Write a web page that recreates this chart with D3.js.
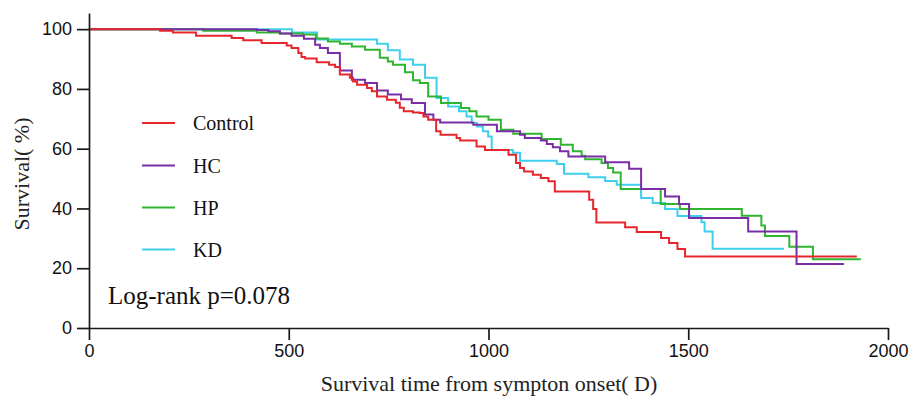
<!DOCTYPE html>
<html>
<head>
<meta charset="utf-8">
<script src="https://cdn.jsdelivr.net/npm/d3@7"></script>
<style>
  html, body { margin: 0; padding: 0; background: #fff; }
  svg { display: block; }
</style>
</head>
<body>
<svg id="chart" width="912" height="403"></svg>
<script>
// ---- Data ----
const groups = ["Control", "HC", "HP", "KD"];
const groupColors = ["#e6262c", "#7a2ea6", "#2fb52f", "#3fcfee"];

const controlTime = [0, 178, 210, 268, 357, 386, 432, 495, 507, 524, 532, 541, 570, 601, 616, 628, 653, 661, 671, 696, 708, 721, 746, 768, 778, 788, 811, 828, 837, 849, 869, 880, 920, 929, 970, 991, 1050, 1069, 1079, 1089, 1111, 1131, 1150, 1166, 1252, 1262, 1270, 1342, 1371, 1432, 1452, 1473, 1492, 1922];
const controlSurv = [100, 99.5, 98.9, 97.8, 97.05, 96.25, 95.4, 94.5, 93.7, 92.0, 90.7, 90.2, 88.9, 88.1, 87.3, 84.8, 83.7, 82.5, 81.4, 80.3, 79.2, 77.5, 76.4, 75.4, 73.7, 72.5, 72.1, 71.9, 70.8, 69.7, 65.8, 64.7, 63.6, 62.7, 60.7, 59.6, 58.0, 55.2, 53.5, 52.4, 51.3, 50.2, 49.1, 45.7, 42.9, 39.8, 35.3, 33.7, 32.1, 30.1, 28.4, 26.4, 23.9, 23.9];

const hcTime = [0, 420, 449, 478, 507, 538, 566, 578, 598, 628, 658, 691, 721, 748, 781, 808, 841, 862, 879, 962, 1021, 1079, 1091, 1131, 1146, 1161, 1179, 1200, 1292, 1352, 1382, 1442, 1477, 1502, 1650, 1771, 1890];
const hcSurv = [100, 99.7, 99.3, 98.5, 97.8, 96.8, 94.8, 93.7, 92.0, 86.2, 83.1, 82.0, 79.5, 78.1, 76.5, 75.3, 71.4, 69.7, 68.8, 68.0, 65.8, 64.7, 63.6, 62.7, 61.6, 60.5, 59.1, 57.4, 55.5, 53.3, 46.5, 44.0, 41.5, 36.8, 32.3, 21.4, 21.4];

const hpTime = [0, 286, 420, 478, 536, 568, 598, 628, 658, 691, 728, 748, 761, 791, 811, 828, 849, 881, 931, 952, 970, 1000, 1031, 1062, 1133, 1181, 1211, 1233, 1242, 1283, 1299, 1312, 1331, 1431, 1479, 1634, 1683, 1692, 1753, 1812, 1932];
const hpSurv = [100, 99.5, 98.9, 98.5, 98.2, 96.9, 95.9, 95.1, 94.2, 93.1, 90.4, 89.2, 88.1, 85.6, 82.9, 82.0, 77.5, 75.3, 73.6, 72.5, 70.8, 69.7, 66.3, 65.0, 63.2, 61.3, 59.1, 57.6, 56.5, 55.2, 53.5, 52.0, 46.5, 41.5, 39.8, 37.6, 34.3, 30.8, 27.2, 23.0, 23.0];

const kdTime = [0, 508, 571, 721, 748, 778, 811, 841, 870, 899, 926, 945, 958, 971, 986, 999, 1008, 1061, 1079, 1171, 1189, 1250, 1292, 1321, 1382, 1411, 1442, 1473, 1533, 1541, 1561, 1740];
const kdSurv = [100, 98.9, 96.5, 95.1, 92.9, 89.8, 88.1, 83.7, 77.0, 74.1, 72.5, 70.8, 68.6, 67.4, 65.8, 64.1, 59.6, 58.6, 56.0, 54.9, 51.6, 50.4, 49.2, 47.9, 43.5, 41.8, 39.8, 37.5, 35.4, 32.3, 26.5, 26.5];

const xTicks = [0, 500, 1000, 1500, 2000];
const yTicks = [0, 20, 40, 60, 80, 100];
const xTitle = "Survival time from sympton onset( D)";
const yTitle = "Survival( %)";
const statText = "Log-rank p=0.078";

// ---- Build ----
const series = [
  { name: "Control", t: controlTime, s: controlSurv },
  { name: "HC", t: hcTime, s: hcSurv },
  { name: "HP", t: hpTime, s: hpSurv },
  { name: "KD", t: kdTime, s: kdSurv }
].map((d, i) => ({ ...d, color: groupColors[i], pts: d.t.map((v, j) => [v, d.s[j]]) }));

const svg = d3.select("#chart");
const x = d3.scaleLinear().domain([0, 2000]).range([89, 888]);
const y = d3.scaleLinear().domain([0, 105.4]).range([328, 13]);

const line = d3.line().x(d => x(d[0])).y(d => y(d[1])).curve(d3.curveStepAfter);

// draw order: KD, HP, HC, Control on top
const order = ["KD", "HP", "HC", "Control"];
order.forEach(n => {
  const d = series.find(s => s.name === n);
  svg.append("path")
    .attr("d", line(d.pts))
    .attr("fill", "none")
    .attr("stroke", d.color)
    .attr("stroke-width", 2);
});

// axes
const axisColor = "#1a1a1a";
const gx = svg.append("g").attr("transform", `translate(0,${y(0)})`)
  .call(d3.axisBottom(x).tickValues(xTicks).tickSize(12).tickSizeOuter(0).tickPadding(4).tickFormat(d3.format("d")));
const gy = svg.append("g").attr("transform", `translate(${x(0)},0)`)
  .call(d3.axisLeft(y).tickValues(yTicks).tickSize(12).tickSizeOuter(0).tickPadding(5).tickFormat(d3.format("d")));

[gx, gy].forEach(g => {
  g.selectAll("path, line").attr("stroke", axisColor).attr("stroke-width", 1.7);
  g.selectAll("text").attr("fill", "#111")
    .style("font-family", "'Liberation Sans', Arial, sans-serif").style("font-size", "18px");
});

// axis titles
svg.append("text")
  .attr("x", 489).attr("y", 391)
  .attr("text-anchor", "middle")
  .style("font-family", "'Liberation Serif', 'Times New Roman', serif")
  .style("font-size", "22px").attr("fill", "#222")
  .text(xTitle);

svg.append("text")
  .attr("transform", "translate(29,174) rotate(-90)")
  .attr("text-anchor", "middle")
  .style("font-family", "'Liberation Serif', 'Times New Roman', serif")
  .style("font-size", "22px").attr("fill", "#222")
  .text(yTitle);

// legend
const legendY = [123, 165.5, 207.5, 249.5];
series.forEach((d, i) => {
  svg.append("line")
    .attr("x1", 142).attr("x2", 175)
    .attr("y1", legendY[i]).attr("y2", legendY[i])
    .attr("stroke", d.color).attr("stroke-width", 1.8);
  svg.append("text")
    .attr("x", 193).attr("y", legendY[i]).attr("dy", "0.35em")
    .style("font-family", "'Liberation Serif', 'Times New Roman', serif")
    .style("font-size", "20px").attr("fill", "#111")
    .text(groups[i]);
});

svg.append("text")
  .attr("x", 108).attr("y", 304)
  .style("font-family", "'Liberation Serif', 'Times New Roman', serif")
  .style("font-size", "25px").attr("fill", "#111")
  .text(statText);
</script>
</body>
</html>
